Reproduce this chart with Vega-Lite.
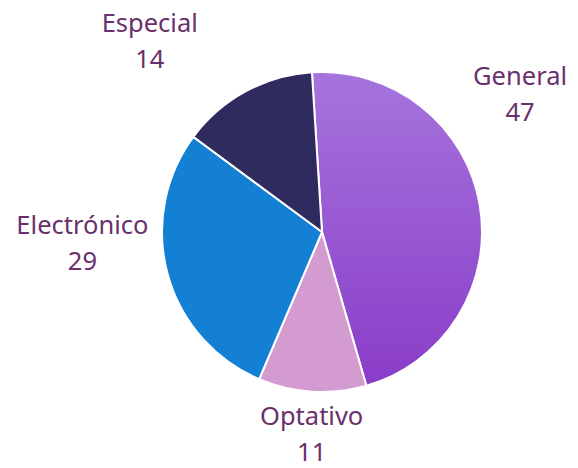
{
  "$schema": "https://vega.github.io/schema/vega-lite/v6.json",
  "width": 512,
  "height": 464,
  "autosize": {"type": "none"},
  "padding": {"left": 66, "top": 0, "right": 0, "bottom": 4},
  "background": "white",
  "config": {"view": {"stroke": null}},
  "data": {
    "values": [
      {"cat": "General", "value": 47},
      {"cat": "Optativo", "value": 11},
      {"cat": "Electrónico", "value": 29},
      {"cat": "Especial", "value": 14}
    ]
  },
  "transform": [
    {"window": [{"op": "row_number", "as": "i"}]},
    {"calculate": "datum.cat + '\\n' + datum.value", "as": "label"}
  ],
  "encoding": {
    "theta": {"field": "value", "type": "quantitative", "stack": true, "scale": {"range": [-0.063, 6.2202]}},
    "order": {"field": "i", "type": "quantitative"}
  },
  "layer": [
    {
      "mark": {"type": "arc", "outerRadius": 160, "stroke": "white", "strokeWidth": 2},
      "encoding": {
        "color": {
          "condition": {
            "test": "datum.cat === 'General'",
            "value": {"gradient": "linear", "x1": 0, "y1": 0, "x2": 0, "y2": 1, "stops": [{"offset": 0, "color": "#a674dc"}, {"offset": 1, "color": "#8a3cc8"}]}
          },
          "field": "cat",
          "type": "nominal",
          "scale": {"domain": ["General", "Optativo", "Electrónico", "Especial"], "range": ["#9a55d6", "#d39bd0", "#1380d3", "#2f2b5f"]},
          "legend": null
        }
      }
    },
    {
      "mark": {"type": "text", "radius": 200, "dx": 1, "dy": -121, "font": "Noto Sans", "fontSize": 25.5, "lineHeight": 36, "lineBreak": "\n", "align": "center", "baseline": "middle", "color": "#69306b"},
      "encoding": {"text": {"condition": {"test": "datum.cat === 'General'", "field": "label"}, "value": ""}}
    },
    {
      "mark": {"type": "text", "radius": 201, "dx": 2, "dy": -16, "font": "Noto Sans", "fontSize": 25.5, "lineHeight": 36, "lineBreak": "\n", "align": "center", "baseline": "middle", "color": "#69306b"},
      "encoding": {"text": {"condition": {"test": "datum.cat === 'Optativo'", "field": "label"}, "value": ""}}
    },
    {
      "mark": {"type": "text", "radius": 240, "dx": -8, "dy": -69, "font": "Noto Sans", "fontSize": 25.5, "lineHeight": 36, "lineBreak": "\n", "align": "center", "baseline": "middle", "color": "#69306b"},
      "encoding": {"text": {"condition": {"test": "datum.cat === 'Electrónico'", "field": "label"}, "value": ""}}
    },
    {
      "mark": {"type": "text", "radius": 216, "dx": -69, "dy": -18, "font": "Noto Sans", "fontSize": 25.5, "lineHeight": 36, "lineBreak": "\n", "align": "center", "baseline": "middle", "color": "#69306b"},
      "encoding": {"text": {"condition": {"test": "datum.cat === 'Especial'", "field": "label"}, "value": ""}}
    }
  ]
}
